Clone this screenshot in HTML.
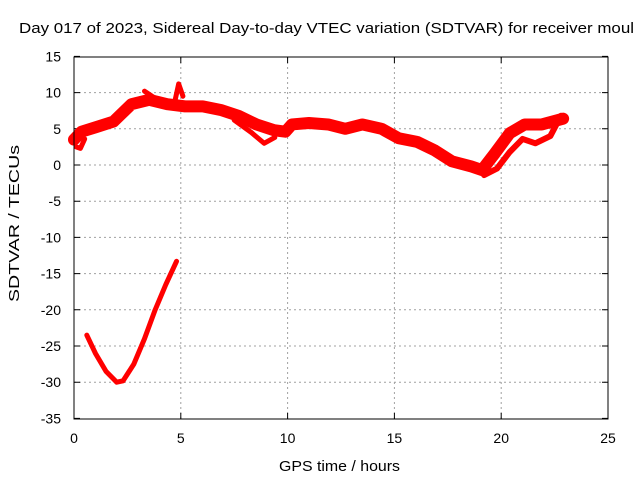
<!DOCTYPE html>
<html><head><meta charset="utf-8"><style>
html,body{margin:0;padding:0;background:#fff;overflow:hidden}
svg{display:block;font-family:"Liberation Sans",Arial,sans-serif}
</style></head><body>
<svg id="chart" width="640" height="480">
<text x="19" y="33" font-size="15" textLength="615" lengthAdjust="spacingAndGlyphs" fill="#000">Day 017 of 2023, Sidereal Day-to-day VTEC variation (SDTVAR) for receiver moul</text>
<text x="279" y="471" font-size="15" textLength="121" lengthAdjust="spacingAndGlyphs">GPS time / hours</text>
<text transform="translate(19,302) rotate(-90)" font-size="15" textLength="157" lengthAdjust="spacingAndGlyphs">SDTVAR / TECUs</text>
<g id="grid"></g>
<g id="ticks"></g>
<g id="series"></g>
<rect x="74" y="57" width="534" height="362" fill="none" stroke="#000" stroke-width="1"/>
</svg>
<script>
const xTicks=[0,5,10,15,20,25];
const yTicks=[15,10,5,0,-5,-10,-15,-20,-25,-30,-35];
const mainT=[0,0.35,1.0,1.85,2.69,3.52,4.36,5.2,6.03,6.87,7.7,8.54,9.37,9.9,10.2,11.0,11.9,12.7,13.5,14.4,15.2,16.06,16.9,17.7,18.6,19.1,19.7,20.4,21.1,21.9,22.9];
const mainV=[3.5,4.6,5.2,6.0,8.4,9.0,8.4,8.1,8.1,7.6,6.8,5.6,4.8,4.6,5.6,5.8,5.6,5.0,5.6,5.0,3.7,3.2,2.0,0.5,-0.2,-0.7,1.6,4.4,5.6,5.6,6.4];
const branchAT=[4.7,4.9,5.1];
const branchAV=[8.5,11.2,9.5];
const branchBT=[3.3,3.6,4.0];
const branchBV=[10.2,9.6,8.8];
const branchCT=[7.5,8.3,8.9,9.4];
const branchCV=[6.2,4.5,3.0,3.8];
const branchDT=[19.2,19.8,20.4,21.0,21.6,22.3,22.8];
const branchDV=[-1.4,-0.5,1.8,3.6,3.0,4.0,6.8];
const branchET=[0.1,0.3,0.5];
const branchEV=[2.5,2.3,3.6];
const lowT=[0.6,1.0,1.5,2.0,2.3,2.8,3.3,3.8,4.3,4.8];
const lowV=[-23.5,-26,-28.5,-30,-29.8,-27.5,-24,-20,-16.5,-13.3];
const X=t=>74+t*534/25;
const Y=v=>165-v*7.24;
const NS="http://www.w3.org/2000/svg";
const grid=document.getElementById('grid'),ticks=document.getElementById('ticks'),ser=document.getElementById('series');
function el(tag,attrs,parent){const e=document.createElementNS(NS,tag);for(const k in attrs)e.setAttribute(k,attrs[k]);parent.appendChild(e);return e;}
xTicks.forEach(t=>{
 const x=X(t);
 if(t>0&&t<25){const g=el('line',{x1:x,x2:x,y1:57,y2:419,stroke:'#a0a0a0','stroke-dasharray':'2,3'},grid);
 
 }
 const tk=el('path',{d:`M${x},419v-6M${x},57v6`,stroke:'#000'},ticks);
 
 
 const l=el('text',{x:x,y:443,'font-size':14,'text-anchor':'middle'},ticks);l.textContent=t;
 
 
});
yTicks.forEach(v=>{
 const y=Y(v);
 if(v<15&&v>-35){const g=el('line',{x1:74,x2:608,y1:y,y2:y,stroke:'#a0a0a0','stroke-dasharray':'2,3'},grid);
 
 }
 const tk=el('path',{d:`M74,${y}h6M608,${y}h-6`,stroke:'#000'},ticks);
 
 
 const l=el('text',{x:61,y:y+5,'font-size':14,'text-anchor':'end'},ticks);l.textContent=v;
 
 
});
function line(ts,vs,w,name){
 const p=el('polyline',{points:ts.map((t,i)=>X(t)+','+Y(vs[i])).join(' '),fill:'none',stroke:'#ff0000','stroke-width':w,'stroke-linejoin':'round','stroke-linecap':'round'},ser);
 
 
}
line(mainT,mainV,12,'sdtvar-main-band');
line(branchAT,branchAV,5,'sdtvar-branch-a');
line(branchBT,branchBV,5,'sdtvar-branch-b');
line(branchCT,branchCV,5,'sdtvar-branch-c');
line(branchDT,branchDV,6,'sdtvar-branch-d');
line(branchET,branchEV,5,'sdtvar-branch-e');
line(lowT,lowV,5,'sdtvar-low-arc');
</script>
</body></html>
